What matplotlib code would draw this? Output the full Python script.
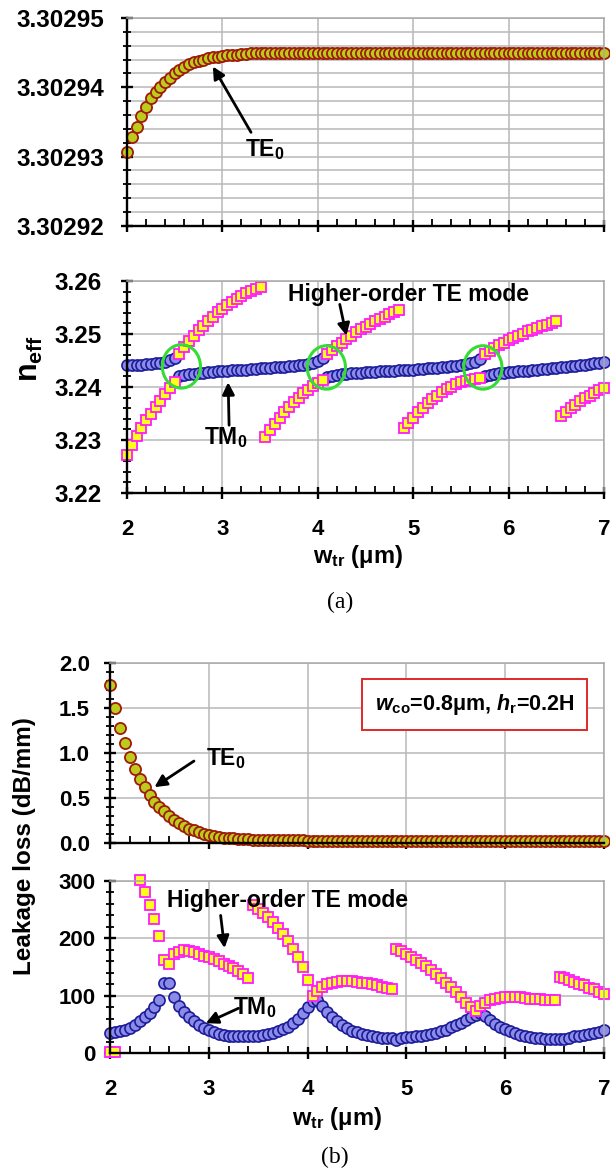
import numpy as np
import matplotlib
matplotlib.use('Agg')
import matplotlib.pyplot as plt
from matplotlib.ticker import MultipleLocator, FormatStrFormatter
from matplotlib.patches import Ellipse

plt.rcParams['font.family'] = 'Liberation Sans'
plt.rcParams['font.weight'] = 'bold'
plt.rcParams['mathtext.fontset'] = 'custom'
plt.rcParams['mathtext.rm'] = 'Liberation Sans:bold'
plt.rcParams['mathtext.it'] = 'Liberation Sans:bold:italic'
plt.rcParams['mathtext.bf'] = 'Liberation Sans:bold'
plt.rcParams['mathtext.default'] = 'rm'

# transition width sweep, 2..7 um in 0.05 steps
w_tr = np.linspace(2.0, 7.0, 101)

# (a) top: TE0 effective index
neff_te0 = [3.3029307, 3.3029328, 3.3029343, 3.3029359, 3.3029372, 3.3029384, 3.3029393, 3.3029401, 3.3029408, 3.3029414,
            3.3029420, 3.3029425, 3.3029429, 3.3029433, 3.3029436, 3.3029438, 3.3029440, 3.3029442, 3.3029443, 3.3029444,
            3.3029445, 3.3029446, 3.3029447, 3.3029447, 3.3029448, 3.3029448, 3.3029449, 3.3029449, 3.3029449, 3.3029449,
            3.3029450, 3.3029449, 3.3029450, 3.3029450, 3.3029449, 3.3029450, 3.3029450, 3.3029450, 3.3029449, 3.3029450,
            3.3029450, 3.3029450, 3.3029450, 3.3029449, 3.3029450, 3.3029450, 3.3029450, 3.3029450, 3.3029450, 3.3029449,
            3.3029450, 3.3029450, 3.3029450, 3.3029450, 3.3029450, 3.3029450, 3.3029449, 3.3029450, 3.3029450, 3.3029450,
            3.3029450, 3.3029450, 3.3029450, 3.3029450, 3.3029449, 3.3029450, 3.3029450, 3.3029450, 3.3029450, 3.3029450,
            3.3029450, 3.3029450, 3.3029450, 3.3029449, 3.3029450, 3.3029450, 3.3029450, 3.3029450, 3.3029450, 3.3029450,
            3.3029450, 3.3029450, 3.3029450, 3.3029450, 3.3029450, 3.3029449, 3.3029450, 3.3029450, 3.3029450, 3.3029450,
            3.3029450, 3.3029450, 3.3029450, 3.3029450, 3.3029450, 3.3029450, 3.3029450, 3.3029450, 3.3029450, 3.3029450,
            3.3029450]

# (a) bottom: TM0 and higher-order TE effective index
neff_tm0 = [3.2441, 3.2441, 3.2442, 3.2442, 3.2443, 3.2444, 3.2445, 3.2446, 3.2448, 3.2451, 3.2455,
            3.2420, 3.2422, 3.2424, 3.2425, 3.2426, 3.2427, 3.2428, 3.2429, 3.2430, 3.2430,
            3.2431, 3.2432, 3.2432, 3.2433, 3.2433, 3.2434, 3.2434, 3.2435, 3.2436, 3.2436,
            3.2437, 3.2437, 3.2438, 3.2439, 3.2440, 3.2441, 3.2442, 3.2444, 3.2446, 3.2449, 3.2454,
            3.2419, 3.2421, 3.2423, 3.2424, 3.2425, 3.2426, 3.2427, 3.2427, 3.2428, 3.2429,
            3.2429, 3.2430, 3.2430, 3.2431, 3.2431, 3.2432, 3.2432, 3.2433, 3.2433, 3.2434,
            3.2434, 3.2435, 3.2436, 3.2436, 3.2437, 3.2438, 3.2439, 3.2440, 3.2441, 3.2443,
            3.2445, 3.2448, 3.2453,
            3.2421, 3.2423, 3.2425, 3.2426, 3.2427, 3.2428, 3.2429, 3.2430, 3.2431, 3.2431,
            3.2432, 3.2433, 3.2434, 3.2434, 3.2435, 3.2436, 3.2437, 3.2438, 3.2439, 3.2440,
            3.2441, 3.2442, 3.2443, 3.2445, 3.2446, 3.2448]

neff_teh = [3.2271, 3.2290, 3.2308, 3.2323, 3.2337, 3.2350, 3.2362, 3.2374, 3.2386, 3.2398, 3.2410,
            3.2463, 3.2475, 3.2487, 3.2497, 3.2507, 3.2516, 3.2525, 3.2533, 3.2541, 3.2548,
            3.2555, 3.2561, 3.2567, 3.2572, 3.2577, 3.2581, 3.2585, 3.2589,
            3.2305, 3.2318, 3.2330, 3.2342, 3.2352, 3.2362, 3.2371, 3.2380, 3.2388, 3.2395,
            3.2402, 3.2408, 3.2414,
            3.2463, 3.2470, 3.2477, 3.2484, 3.2491, 3.2497, 3.2503, 3.2509, 3.2514, 3.2519,
            3.2524, 3.2529, 3.2533, 3.2537, 3.2541, 3.2545,
            3.2322, 3.2333, 3.2342, 3.2352, 3.2361, 3.2369, 3.2377, 3.2384, 3.2390, 3.2396,
            3.2401, 3.2405, 3.2409, 3.2412, 3.2414, 3.2416, 3.2417,
            3.2462, 3.2468, 3.2474, 3.2479, 3.2484, 3.2489, 3.2493, 3.2497, 3.2501, 3.2505,
            3.2508, 3.2512, 3.2515, 3.2518, 3.2521, 3.2524,
            3.2346, 3.2353, 3.2360, 3.2367, 3.2373, 3.2379, 3.2384, 3.2389, 3.2394, 3.2398]

# (b) top: TE0 leakage loss (dB/mm)
loss_te0 = [1.75, 1.50, 1.28, 1.11, 0.95, 0.82, 0.71, 0.62, 0.53, 0.46,
            0.40, 0.35, 0.30, 0.26, 0.22, 0.19, 0.16, 0.14, 0.12, 0.10,
            0.09, 0.08, 0.07, 0.06, 0.055, 0.05, 0.045, 0.04, 0.04, 0.035,
            0.035, 0.03, 0.03, 0.03, 0.03, 0.03, 0.03, 0.03, 0.03, 0.03,
            0.025, 0.025, 0.025, 0.025, 0.025, 0.025, 0.02, 0.02, 0.02, 0.02,
            0.02, 0.02, 0.02, 0.02, 0.02, 0.02, 0.02, 0.02, 0.02, 0.02,
            0.02, 0.02, 0.02, 0.02, 0.02, 0.02, 0.02, 0.02, 0.02, 0.02,
            0.02, 0.02, 0.02, 0.02, 0.02, 0.02, 0.02, 0.02, 0.02, 0.02,
            0.02, 0.02, 0.02, 0.02, 0.02, 0.02, 0.02, 0.02, 0.02, 0.02,
            0.02, 0.02, 0.02, 0.02, 0.02, 0.02, 0.02, 0.02, 0.02, 0.02,
            0.02]

# (b) bottom: TM0 and higher-order TE leakage loss (dB/mm), nan = off scale
loss_tm0 = [35, 37, 38, 41, 44, 49, 55, 62, 70, 80,
            92, 122, 122, 97, 82, 71, 62, 55, 49, 44,
            40, 36, 33, 31, 30, 29, 29, 29, 29, 29,
            30, 31, 33, 35, 38, 42, 46, 52, 60, 70,
            80, 90, 93, 82, 72, 63, 55, 49, 44, 39,
            36, 33, 31, 29, 28, 27, 27, 26, 22, 27,
            28, 28, 29, 30, 31, 33, 35, 38, 41, 45,
            49, 53, 58, 63, 67, 70, 64, 57, 51, 46,
            42, 38, 35, 32, 30, 28, 27, 26, 25, 25,
            24, 24, 25, 27, 29, 30, 31, 33, 35, 37,
            40]

loss_teh = [2, 2, np.nan, np.nan, np.nan, np.nan, 302, 280, 258, 233, 204,
            163, 156, 172, 177, 179, 178, 176, 173, 170, 167,
            164, 160, 156, 152, 148, 143, 137, 131,
            258, 252, 245, 237, 228, 218, 207, 195, 182, 167,
            150, 128, 100,
            108, 116, 121, 123, 124, 125, 125, 125, 124, 123,
            122, 120, 118, 116, 114, 112,
            182, 178, 173, 168, 163, 157, 151, 145, 138, 131,
            123, 115, 106, 97, 88, 80, 73,
            82, 88, 92, 94, 96, 97, 97, 97, 97, 96,
            95, 94, 94, 93, 93, 93,
            133, 130, 127, 124, 121, 118, 114, 111, 107, 103]

# anticrossing markers in (a)
cross_x = [2.57, 4.09, 5.73]
cross_y = [3.2439, 3.2437, 3.2437]

c_te0 = dict(marker='o', ms=8, mfc='#bccb1c', mec='#9e1a0a', mew=1.3, ls='none', clip_on=False)
c_tm0 = dict(marker='o', ms=8, mfc='#8c8ce8', mec='#1c1c99', mew=1.2, ls='none', clip_on=False)
c_teh = dict(marker='s', ms=7, mfc='#ffff1a', mec='#ff1aff', mew=1.3, ls='none', clip_on=False)
arrow = dict(arrowstyle='-|>', color='k', lw=2, mutation_scale=18, shrinkA=0, shrinkB=0)


def style(ax, ymaj, ymin, ypad, ysize, ygrid_minor=False, xlabels=True):
    ax.set_xlim(2, 7)
    ax.xaxis.set_major_locator(MultipleLocator(1))
    ax.xaxis.set_minor_locator(MultipleLocator(0.2))
    ax.yaxis.set_major_locator(MultipleLocator(ymaj))
    ax.yaxis.set_minor_locator(MultipleLocator(ymin))
    ax.grid(which='major', color='#b8b8b8', lw=1.1)
    if ygrid_minor:
        ax.grid(which='minor', axis='y', color='#b8b8b8', lw=1.1)
    ax.set_axisbelow(True)
    for s in ['top', 'right']:
        ax.spines[s].set_color('#a8a8a8')
        ax.spines[s].set_linewidth(1.1)
    for s in ['left', 'bottom']:
        ax.spines[s].set_linewidth(1.7)
    ax.tick_params(which='major', direction='inout', length=9, width=1.7)
    ax.tick_params(which='minor', direction='inout', length=6, width=1.3)
    ax.tick_params(axis='x', which='minor', direction='in', length=5)
    ax.tick_params(axis='y', labelsize=ysize, pad=ypad)
    ax.tick_params(axis='x', labelsize=16, pad=14, labelbottom=xlabels)


fig = plt.figure(figsize=(6.1, 11.75), dpi=100)

# (a) top
ax1 = fig.add_axes([0.2082, 0.8077, 0.7820, 0.1770])
ax1.plot(w_tr, neff_te0, **c_te0)
ax1.set_ylim(3.30292, 3.30295)
style(ax1, 0.00001, 0.000002, 12, 17.5, ygrid_minor=True, xlabels=False)
ax1.yaxis.set_major_formatter(FormatStrFormatter('%.5f'))
ax1.text(3.44, 3.302931, r'TE$_0$', fontsize=16.5, ha='center', va='center')
ax1.annotate('', xy=(2.90, 3.302943), xytext=(3.30, 3.3029335), arrowprops=arrow)

# (a) bottom
ax2 = fig.add_axes([0.2082, 0.5804, 0.7820, 0.1804])
ax2.plot(w_tr, neff_tm0, **c_tm0)
ax2.plot(w_tr, neff_teh, **c_teh)
ax2.set_ylim(3.22, 3.26)
style(ax2, 0.01, 0.002, 14, 17.5)
ax2.yaxis.set_major_formatter(FormatStrFormatter('%.2f'))
for cx, cy in zip(cross_x, cross_y):
    ax2.add_patch(Ellipse((cx, cy), 0.40, 0.0082, fill=False, ec='#33dd33', lw=2.2, zorder=5))
ax2.text(4.95, 3.2574, 'Higher-order TE mode', fontsize=16.5, ha='center', va='center')
ax2.annotate('', xy=(4.30, 3.2497), xytext=(4.23, 3.2556), arrowprops=arrow)
ax2.text(3.03, 3.2305, r'TM$_0$', fontsize=16.5, ha='center', va='center')
ax2.annotate('', xy=(3.06, 3.2409), xytext=(3.07, 3.2328), arrowprops=arrow)

fig.text(30 / 610, 1 - 358 / 1175, r'n$_{eff}$', fontsize=22, rotation=90, ha='center', va='center')
fig.text(358 / 610, 1 - 557 / 1175, r'w$_{tr}$ (μm)', fontsize=17, ha='center', va='center')
fig.text(340 / 610, 1 - 602 / 1175, '(a)', fontsize=17, family='Liberation Serif', weight='normal',
         ha='center', va='center')

# (b) top
ax3 = fig.add_axes([0.1803, 0.2826, 0.8098, 0.1532])
ax3.plot(w_tr, loss_te0, **c_te0)
ax3.set_ylim(0, 2.0)
style(ax3, 0.5, 0.1, 10, 16, xlabels=False)
ax3.yaxis.set_major_formatter(FormatStrFormatter('%.1f'))
ax3.text(3.17, 0.94, r'TE$_0$', fontsize=16.5, ha='center', va='center')
ax3.annotate('', xy=(2.45, 0.62), xytext=(2.85, 0.91), arrowprops=arrow)
ax3.text(5.69, 1.54, r'$\mathit{w}_{co}$=0.8μm, $\mathit{h}_{r}$=0.2H', fontsize=15.5, ha='center', va='center',
         bbox=dict(boxstyle='square,pad=0.6', fc='white', ec='#e02828', lw=1.4))

# (b) bottom
ax4 = fig.add_axes([0.1803, 0.1038, 0.8098, 0.1464])
ax4.plot(w_tr, loss_tm0, **c_tm0)
ax4.plot(w_tr, loss_teh, **c_teh)
ax4.set_ylim(0, 300)
style(ax4, 100, 20, 6, 16)
ax4.yaxis.set_major_formatter(FormatStrFormatter('%d'))
ax4.text(3.80, 266, 'Higher-order TE mode', fontsize=16.5, ha='center', va='center')
ax4.annotate('', xy=(3.16, 183), xytext=(3.12, 240), arrowprops=arrow)
ax4.text(3.47, 80, r'TM$_0$', fontsize=16.5, ha='center', va='center')
ax4.annotate('', xy=(2.97, 52), xytext=(3.30, 78), arrowprops=arrow)

fig.text(24 / 610, 1 - 846 / 1175, 'Leakage loss (dB/mm)', fontsize=17.5, rotation=90, ha='center', va='center')
fig.text(337 / 610, 1 - 1118 / 1175, r'w$_{tr}$ (μm)', fontsize=17, ha='center', va='center')
fig.text(335 / 610, 1 - 1157 / 1175, '(b)', fontsize=17, family='Liberation Serif', weight='normal',
         ha='center', va='center')

fig.savefig('out.png', dpi=100)
